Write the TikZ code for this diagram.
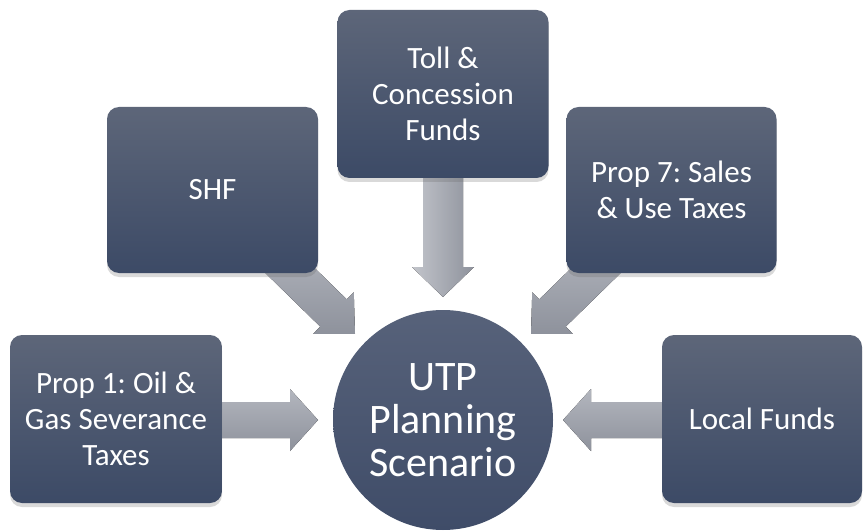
\documentclass[tikz,border=0pt]{standalone}
\usepackage{fontspec}
\setmainfont{Carlito}
\usetikzlibrary{shadows,calc}
\tikzset{
  box/.style={rectangle, rounded corners=12pt, top color=boxtop, bottom color=boxbot,
    draw=none, text=white, align=center, font=\fontsize{31}{36}\selectfont,
    drop shadow={shadow xshift=0pt, shadow yshift=-4pt, opacity=0.25, fill=black!60}},
  hub/.style={circle, minimum size=220pt, inner sep=0pt, top color=circtop, bottom color=circbot,
    text=white, align=center, font=\fontsize{42}{43}\selectfont},
  arrowvert/.style={top color=arrlight, bottom color=arrdark, draw=none},
  arrowalong/.style={left color=arrlight!80!white, right color=arrdark, draw=none}
}
\definecolor{boxtop}{HTML}{5D6679}
\definecolor{boxbot}{HTML}{3C4A66}
\definecolor{circtop}{HTML}{57627A}
\definecolor{circbot}{HTML}{3F4C68}
\definecolor{arrlight}{HTML}{B3B6BE}
\definecolor{arrdark}{HTML}{8E929C}
\newcommand\blockarrow[6]{% style, from, to, shaft half width, head half width, head length
  \path let \p1=(#2), \p2=(#3), \n1={atan2(\y2-\y1,\x2-\x1)}, \n2={veclen(\x2-\x1,\y2-\y1)} in
    \pgfextra{\xdef\barang{\n1}\xdef\barlen{\n2}};
  \begin{scope}[shift={(#2)}, rotate=\barang]
    \fill[#1] (0,-#4) -- ({\barlen-#6},-#4) -- ({\barlen-#6},-#5) -- (\barlen,0)
      -- ({\barlen-#6},#5) -- ({\barlen-#6},#4) -- (0,#4) -- cycle;
  \end{scope}}
\begin{document}
\frenchspacing
\begin{tikzpicture}[x=1pt,y=1pt]
\useasboundingbox (0,0) rectangle (864,531);
% named anchor points for arrows
\coordinate (lefttail) at (215,111);
\coordinate (lefttip) at (318,111);
\coordinate (righttail) at (670,111);
\coordinate (righttip) at (563,111);
\coordinate (toptail) at (443,360);
\coordinate (toptip) at (443,234);
\coordinate (shftail) at (270,280);
\coordinate (shftip) at (355,197);
\coordinate (p7tail) at (616,280);
\coordinate (p7tip) at (531,197);
% arrows (drawn first, boxes cover the tails)
\blockarrow{arrowvert}{lefttail}{lefttip}{18}{31}{28}
\blockarrow{arrowvert}{righttail}{righttip}{18}{31}{28}
\blockarrow{arrowalong}{toptail}{toptip}{20}{31}{30}
\blockarrow{arrowvert}{shftail}{shftip}{19}{29}{30}
\blockarrow{arrowvert}{p7tail}{p7tip}{19}{29}{30}
% boxes
\node[box, minimum width=211pt, minimum height=168pt] (toll) at (443,437) {Toll \&\\Concession\\Funds};
\node[box, minimum width=211pt, minimum height=166pt] (shf) at (212.5,341) {SHF};
\node[box, minimum width=210pt, minimum height=166pt] (prop7) at (671.5,341) {Prop 7: Sales\\\& Use Taxes};
\node[box, minimum width=212pt, minimum height=168pt] (prop1) at (116,112) {Prop 1: Oil \&\\Gas Severance\\Taxes};
\node[box, minimum width=200pt, minimum height=168pt] (local) at (762,112) {Local Funds};
\node[hub] (utp) at (443,111) {UTP\\Planning\\Scenario};
\end{tikzpicture}
\end{document}
